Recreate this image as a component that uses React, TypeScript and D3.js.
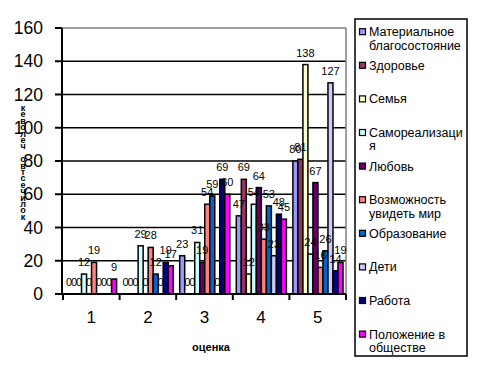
import React from 'react';
import * as d3 from 'd3';

const categories = ['1', '2', '3', '4', '5'];

const seriesNames = [
  'Материальное благосостояние',
  'Здоровье',
  'Семья',
  'Самореализация',
  'Любовь',
  'Возможность увидеть мир',
  'Образование',
  'Дети',
  'Работа',
  'Положение в обществе',
];

// legend shows the names wrapped as in the original
const legendLines = [
  ['Материальное', 'благосостояние'],
  ['Здоровье'],
  ['Семья'],
  ['Самореализаци', 'я'],
  ['Любовь'],
  ['Возможность', 'увидеть мир'],
  ['Образование'],
  ['Дети'],
  ['Работа'],
  ['Положение в', 'обществе'],
];

const seriesColors = [
  '#9999FF', '#993366', '#FFFFCC', '#CCFFFF', '#660066',
  '#FF8080', '#0066CC', '#CCCCFF', '#000080', '#FF00FF',
];

// values per series, one number per category 1..5
const materialValues = [0, 0, 23, 47, 80];
const healthValues = [0, 0, 0, 69, 81];
const familyValues = [0, 0, 0, 12, 138];
const selfValues = [12, 29, 31, 54, 24];
const loveValues = [0, 0, 19, 64, 67];
const travelValues = [19, 28, 54, 33, 16];
const educationValues = [0, 12, 59, 53, 26];
const childrenValues = [0, 0, 0, 23, 127];
const workValues = [0, 19, 69, 48, 14];
const statusValues = [9, 17, 60, 45, 19];

const seriesValues = [
  materialValues, healthValues, familyValues, selfValues, loveValues,
  travelValues, educationValues, childrenValues, workValues, statusValues,
];

const yTicks = [0, 20, 40, 60, 80, 100, 120, 140, 160];

const yTitle = 'количество человек';
const xTitle = 'оценка';

const FONT = '"Liberation Sans", Arial, sans-serif';

const App: React.FC = () => {
  const width = 483;
  const height = 384;
  const plot = { left: 62, right: 346, top: 28, bottom: 294 };

  const x0 = d3.scaleBand().domain(categories).range([plot.left + 1, plot.right]).padding(0);
  const x1 = d3.scaleBand().domain(seriesNames).range([3.5, x0.bandwidth() - 3]).padding(0);
  const y = d3.scaleLinear().domain([0, 160]).range([plot.bottom, plot.top]);

  const stackedTitle = yTitle.split('').reverse();

  return (
    <div style={{ position: 'fixed', left: 0, top: 0 }}>
      <svg width={width} height={height} style={{ display: 'block', background: '#fff' }}>
        {/* gridlines */}
        {yTicks.filter(t => t > 0 && t < 160).map(t => (
          <line key={t} x1={plot.left} x2={plot.right} y1={y(t)} y2={y(t)} stroke="#000" strokeWidth={1.5} />
        ))}
        {/* plot border top/right */}
        <line x1={plot.left} x2={plot.right} y1={y(160)} y2={y(160)} stroke="#808080" strokeWidth={1.5} />
        <line x1={plot.right} x2={plot.right} y1={y(160)} y2={plot.bottom} stroke="#808080" strokeWidth={1.5} />

        {/* bars */}
        {categories.map((c, ci) => (
          <g key={c} transform={`translate(${x0(c)},0)`}>
            {seriesNames.map((s, si) => {
              const v = seriesValues[si][ci];
              if (v <= 0) return null;
              return (
                <rect
                  key={s}
                  x={x1(s)!}
                  y={y(v)}
                  width={x1.bandwidth()}
                  height={y(0) - y(v)}
                  fill={seriesColors[si]}
                  stroke="#000"
                  strokeWidth={1.5}
                />
              );
            })}
          </g>
        ))}

        {/* axes */}
        <line x1={plot.left} x2={plot.left} y1={plot.top} y2={plot.bottom + 1} stroke="#000" strokeWidth={2} />
        <line x1={plot.left - 7} x2={plot.right} y1={plot.bottom} y2={plot.bottom} stroke="#000" strokeWidth={2} />
        {yTicks.map(t => (
          <g key={t}>
            <line x1={plot.left - 7} x2={plot.left} y1={y(t)} y2={y(t)} stroke="#000" strokeWidth={2} />
            <text x={43} y={y(t) + 6} textAnchor="end" fontFamily={FONT} fontSize={17.5}>{t}</text>
          </g>
        ))}
        {categories.map(c => (
          <g key={c}>
            <line x1={x0(c)!} x2={x0(c)!} y1={plot.bottom} y2={plot.bottom + 6} stroke="#000" strokeWidth={2} />
            <text x={x0(c)! + x0.bandwidth() / 2} y={plot.bottom + 29} textAnchor="middle" fontFamily={FONT} fontSize={17}>{c}</text>
          </g>
        ))}
        <line x1={plot.right} x2={plot.right} y1={plot.bottom} y2={plot.bottom + 6} stroke="#000" strokeWidth={2} />

        {/* data labels */}
        {categories.map((c, ci) => (
          <g key={c} transform={`translate(${x0(c)},0)`}>
            {seriesNames.map((s, si) => {
              const v = seriesValues[si][ci];
              return (
                <text
                  key={s}
                  x={x1(s)! + x1.bandwidth() / 2}
                  y={y(v) - 8}
                  textAnchor="middle"
                  fontFamily={FONT}
                  fontSize={11}
                >
                  {v}
                </text>
              );
            })}
          </g>
        ))}

        {/* axis titles */}
        <text fontFamily={FONT} fontSize={9} fontWeight="bold" textAnchor="middle">
          {stackedTitle.map((ch, i) => (
            <tspan key={i} x={23} y={111 + i * 6.4}>{ch}</tspan>
          ))}
        </text>
        <text x={211} y={351} textAnchor="middle" fontFamily={FONT} fontSize={11} fontWeight="bold">{xTitle}</text>

        {/* legend */}
        <rect x={355} y={19} width={112} height={337} fill="#fff" stroke="#000" strokeWidth={1.5} />
        {legendLines.map((lines, i) => {
          const cy = 31.7 + i * 33.6;
          return (
            <g key={i}>
              <rect x={359.5} y={cy - 3} width={6} height={6} fill={seriesColors[i]} stroke="#000" strokeWidth={1.2} />
              {lines.map((ln, li) => (
                <text key={li} x={369} y={cy + 4.5 + li * 13.3} fontFamily={FONT} fontSize={12.5}>{ln}</text>
              ))}
            </g>
          );
        })}
      </svg>
    </div>
  );
};

export default App;
